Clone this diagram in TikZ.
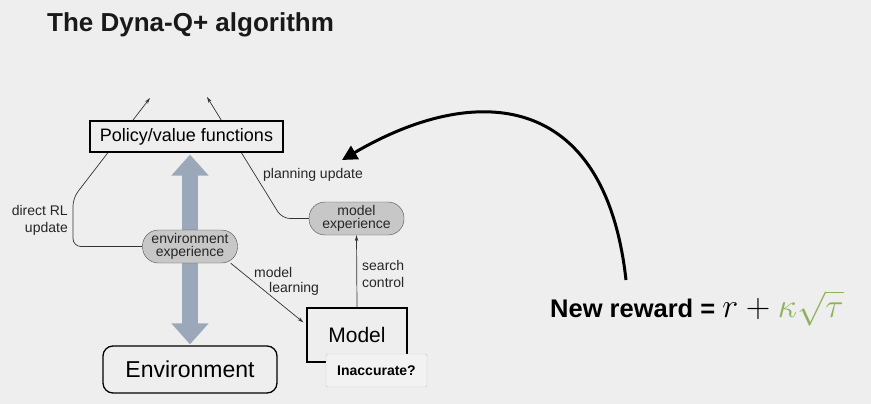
\RequirePackage{fix-cm}
\documentclass[tikz,border=0pt]{standalone}
\usepackage{fontspec}
\setmainfont{Liberation Sans}
\usetikzlibrary{arrows.meta,positioning}
\definecolor{bggray}{HTML}{EEEEEE}
\definecolor{arrowblue}{HTML}{9AA8BA}
\definecolor{rwgreen}{HTML}{8DB25A}
\pgfdeclarelayer{back}
\pgfsetlayers{back,main}

\begin{document}
\begin{tikzpicture}[x=1pt,y=-1pt,
    lbl/.style={font=\fontsize{14}{17}\selectfont, text=black!85, inner sep=0pt},
    expbox/.style={draw=black!70, fill=black!22, rounded corners=16pt, minimum width=95pt,
        minimum height=33pt, inner sep=0pt, align=center, text=black!85,
        font=\fontsize{14}{13}\selectfont},
    thinarr/.style={draw=black!80, line width=0.7pt, -{Stealth[length=6pt,width=3.5pt]}},
    bigarrow/.style={line width=16pt, draw=arrowblue,
        {Triangle[length=21pt,width=36pt]}-{Triangle[length=21pt,width=36pt]}}]
    \useasboundingbox (0,0) rectangle (871,404);
    \begin{pgfonlayer}{back}
        \fill[bggray] (0,0) rectangle (871,404);
    \end{pgfonlayer}

    \node[anchor=base west, inner sep=0pt, text=black!90,
        font=\fontsize{26}{30}\selectfont\bfseries] (title) at (47,32) {The Dyna-Q+ algorithm};

    % boxes
    \node[draw, line width=1.2pt, fill=bggray, minimum width=193pt, minimum height=31pt,
        inner sep=0pt, font=\fontsize{18}{20}\selectfont] (pol) at (186.5,136.5) {Policy/value functions};
    \node[expbox] (envx) at (190,246.5) {environment\\experience};
    \node[expbox] (modx) at (356.5,218.5) {model\\experience};
    \node[draw, line width=1.3pt, fill=bggray, minimum width=100pt, minimum height=54pt,
        inner sep=0pt, font=\fontsize{21}{24}\selectfont] (model) at (357,335) {Model};
    \node[draw=black!22, fill=black!5, rounded corners=2pt, minimum width=101pt, minimum height=33pt,
        inner sep=0pt, font=\fontsize{14}{16}\selectfont\bfseries] (inacc) at (376.5,370.5) {Inaccurate?};
    \node[draw, line width=1.3pt, rounded corners=10pt, minimum width=174pt, minimum height=47pt,
        inner sep=0pt, font=\fontsize{23}{26}\selectfont] (env) at (190,369.5) {Environment};

    % labels
    \node[lbl, align=right, anchor=east] (drl) at (68,220) {direct RL\\update};
    \node[lbl, anchor=west] (plu) at (263,175) {planning update};
    \node[lbl, align=left, anchor=west] (mlr) at (254,281) {model\\[-2pt]\hspace*{15pt}learning};
    \node[lbl, align=left, anchor=west] (sch) at (362,274) {search\\control};

    \coordinate (upl) at (150,98);
    \coordinate (upr) at (207,97);

    \begin{pgfonlayer}{back}
        \draw[bigarrow] ([yshift=-2pt]env.north |- pol.south) -- ([yshift=1pt]env.north);
        \draw[thinarr, rounded corners=8pt] (envx.west) -- (73,246.5) -- (73,198) -- (upl);
        \draw[thinarr, rounded corners=8pt] (modx.west) -- (282,218.5) -- (upr);
    \end{pgfonlayer}
    \draw[thinarr] ([xshift=-7pt]envx.south east) -- ([xshift=-3pt,yshift=-15pt]model.north west);
    \draw[thinarr] (model.north) -- (modx.south);

    % new reward
    \node[anchor=base west, inner sep=0pt] (nr) at (550,317)
        {\fontsize{25.5}{28}\selectfont\bfseries New reward = \fontsize{34}{38}\selectfont$r + {\color{rwgreen}\kappa\sqrt{\tau}}$};
    \coordinate (cstart) at (626,280);
    \coordinate (ctip) at (342,160);
    \draw[line width=3pt, -{Triangle[length=15pt,width=15pt]}] (cstart) .. controls (605,90) and (475,82) .. (ctip);
\end{tikzpicture}
\end{document}
